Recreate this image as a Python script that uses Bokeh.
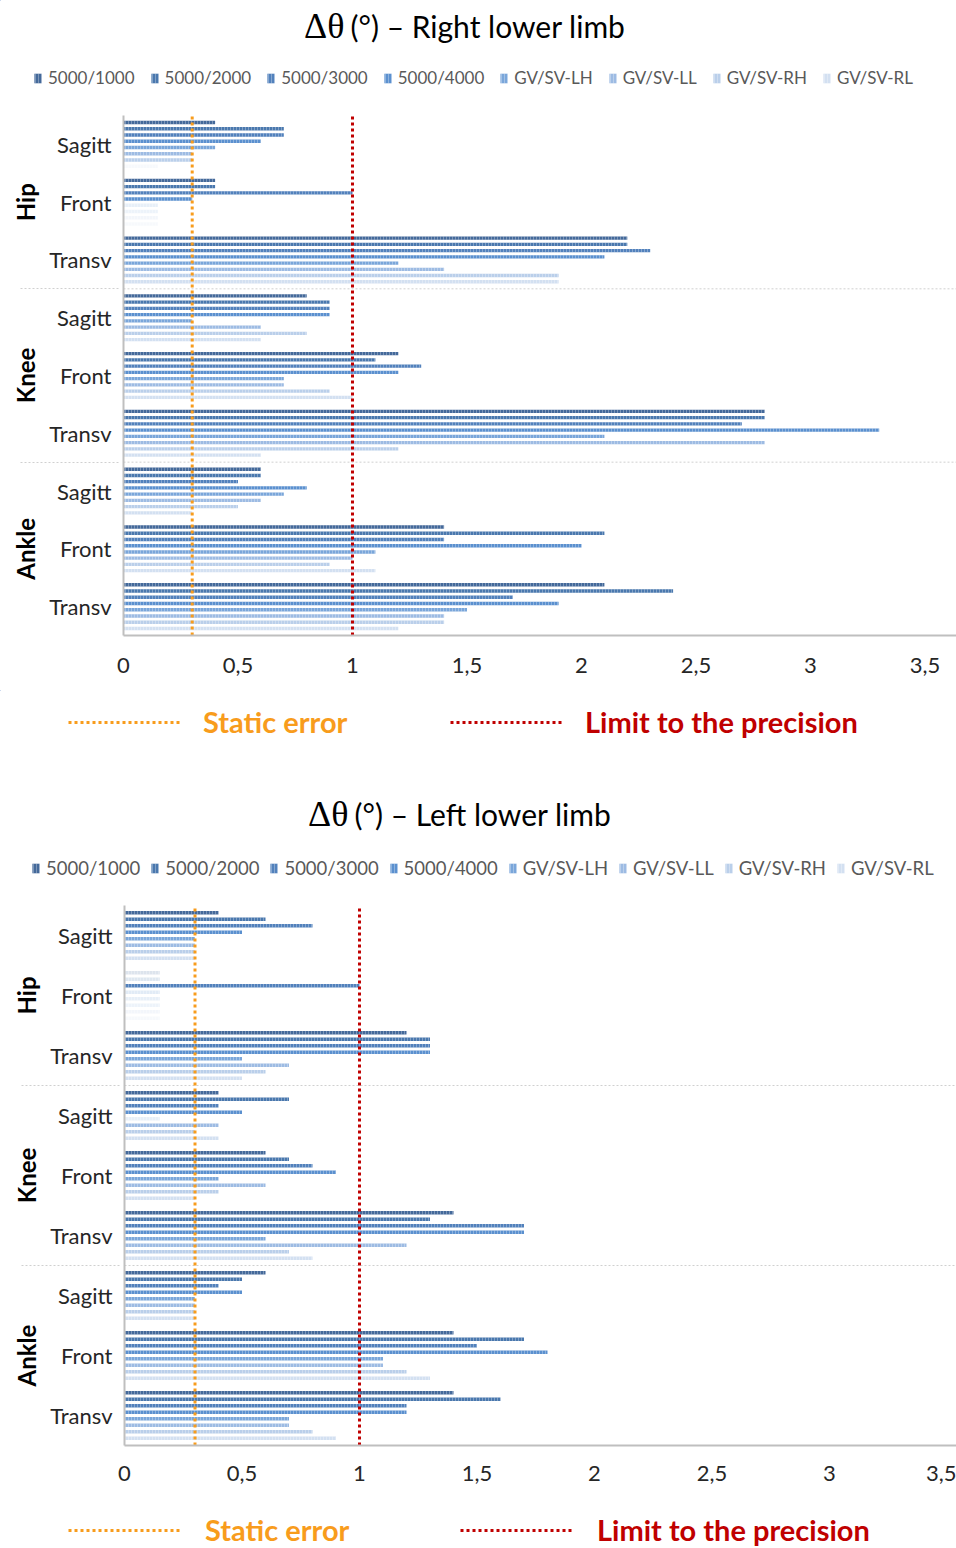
from bokeh.plotting import figure
from bokeh.models import (ColumnDataSource, FactorRange, FixedTicker, Legend,
                          LegendItem, Label, Range1d)
from bokeh.transform import dodge
from bokeh.embed import file_html
from bokeh.resources import INLINE

# ---------------- data ----------------
SERIES = ["5000/1000", "5000/2000", "5000/3000", "5000/4000",
          "GV/SV-LH", "GV/SV-LL", "GV/SV-RH", "GV/SV-RL"]
JOINTS = ["Hip", "Knee", "Ankle"]
PLANES = ["Sagitt", "Front", "Transv"]
XTICKS = [0, 0.5, 1, 1.5, 2, 2.5, 3, 3.5]
XTICK_LABELS = ["0", "0,5", "1", "1,5", "2", "2,5", "3", "3,5"]
STATIC_ERROR = 0.3
PRECISION_LIMIT = 1

# values per series, categories ordered Hip S/F/T, Knee S/F/T, Ankle S/F/T
RIGHT_5000_1000 = [0.4, 0.4, 2.2, 0.8, 1.2, 2.8, 0.6, 1.4, 2.1]
RIGHT_5000_2000 = [0.7, 0.4, 2.2, 0.9, 1.1, 2.8, 0.6, 2.1, 2.4]
RIGHT_5000_3000 = [0.7, 1.0, 2.3, 0.9, 1.3, 2.7, 0.5, 1.4, 1.7]
RIGHT_5000_4000 = [0.6, 0.3, 2.1, 0.9, 1.2, 3.3, 0.8, 2.0, 1.9]
RIGHT_GVSV_LH = [0.4, 0.15, 1.2, 0.3, 0.7, 2.1, 0.7, 1.1, 1.5]
RIGHT_GVSV_LL = [0.3, 0.15, 1.4, 0.6, 0.7, 2.8, 0.6, 1.0, 1.4]
RIGHT_GVSV_RH = [0.3, 0.15, 1.9, 0.8, 0.9, 1.2, 0.5, 0.9, 1.4]
RIGHT_GVSV_RL = [0.15, 0.15, 1.9, 0.6, 1.0, 0.6, 0.3, 1.1, 1.2]

LEFT_5000_1000 = [0.4, 0.15, 1.2, 0.4, 0.6, 1.4, 0.6, 1.4, 1.4]
LEFT_5000_2000 = [0.6, 0.15, 1.3, 0.7, 0.7, 1.3, 0.5, 1.7, 1.6]
LEFT_5000_3000 = [0.8, 1.0, 1.3, 0.4, 0.8, 1.7, 0.4, 1.5, 1.2]
LEFT_5000_4000 = [0.5, 0.15, 1.3, 0.5, 0.9, 1.7, 0.5, 1.8, 1.2]
LEFT_GVSV_LH = [0.3, 0.15, 0.5, 0.15, 0.4, 0.6, 0.3, 1.1, 0.7]
LEFT_GVSV_LL = [0.3, 0.15, 0.7, 0.4, 0.6, 1.2, 0.3, 1.1, 0.7]
LEFT_GVSV_RH = [0.3, 0.15, 0.6, 0.3, 0.4, 0.7, 0.3, 1.2, 0.8]
LEFT_GVSV_RL = [0.3, 0.15, 0.5, 0.4, 0.3, 0.8, 0.3, 1.3, 0.9]

RIGHT = [RIGHT_5000_1000, RIGHT_5000_2000, RIGHT_5000_3000, RIGHT_5000_4000,
         RIGHT_GVSV_LH, RIGHT_GVSV_LL, RIGHT_GVSV_RH, RIGHT_GVSV_RL]
LEFT = [LEFT_5000_1000, LEFT_5000_2000, LEFT_5000_3000, LEFT_5000_4000,
        LEFT_GVSV_LH, LEFT_GVSV_LL, LEFT_GVSV_RH, LEFT_GVSV_RL]

# ---------------- style ----------------
W = 956
COLORS = ["#44699A", "#4A78AE", "#5281BC", "#5B90CF",
          "#7AA6DA", "#9DBBE3", "#BACFEA", "#D3E0F1"]
ORANGE = "#F89C1C"
RED = "#C00000"
FONT = "Lato"
STEP = 0.108
BAR_H = 0.058
FAINT = 0.15
HATCH = dict(hatch_pattern="vertical_line", hatch_color="#ffffff",
             hatch_alpha=0.3, hatch_scale=3, hatch_weight=1)


def blank(h):
    f = figure(width=W, height=h, x_range=Range1d(0, W), y_range=Range1d(h, 0),
               output_backend="svg", toolbar_location=None, min_border=0,
               x_axis_location=None, y_axis_location=None, title=None)
    f.grid.visible = False
    f.outline_line_color = None
    return f


def add_title(f, rest, x_join, y):
    f.add_layout(Label(x=x_join, y=y, text="Δθ", text_align="right",
                       text_baseline="middle", text_font="Liberation Serif",
                       text_font_size="36px", text_color="#000000"))
    f.add_layout(Label(x=x_join + 6, y=y, text=rest, text_align="left",
                       text_baseline="middle", text_font=FONT,
                       text_font_size="30px", text_color="#000000"))


def add_series_legend(f, loc, fs, spacing):
    items = []
    for name, c in zip(SERIES, COLORS):
        # legend-only renderer placed outside the visible range
        r = f.hbar(y=[-50], right=[-40], left=[-45], height=1,
                   fill_color=c, line_color=None, **HATCH)
        items.append(LegendItem(label=name, renderers=[r]))
    f.add_layout(Legend(items=items, orientation="horizontal", location=loc,
                        glyph_width=9, glyph_height=12, label_standoff=6,
                        label_height=20, spacing=spacing, padding=0, margin=0,
                        border_line_color=None, background_fill_alpha=0,
                        label_text_font=FONT, label_text_font_size=fs,
                        label_text_color="#595959"))


def add_limit_legends(f, vy, x_static, x_prec, standoff):
    for lbl, color, vx in [("Static error", ORANGE, x_static),
                           ("Limit to the precision", RED, x_prec)]:
        r = f.line(x=[-50, -40], y=[-50, -50], line_color=color, line_width=3,
                   line_dash="3 3")
        f.add_layout(Legend(items=[LegendItem(label=lbl, renderers=[r])],
                            location=(vx, vy), glyph_width=112, glyph_height=34,
                            label_height=34, label_standoff=standoff,
                            padding=0, margin=0, border_line_color=None,
                            background_fill_alpha=0, label_text_font=FONT,
                            label_text_font_size="29px",
                            label_text_font_style="bold",
                            label_text_color=color))


def make_chart(data, cfg):
    cats = [(j, pl) for j in JOINTS for pl in PLANES]
    fw = W - cfg["left"]
    fh = cfg["frame_h"]
    x_end = fw / cfg["ppu"]
    p = figure(width=W, height=cfg["top"] + fh + cfg["bottom"],
               y_range=FactorRange(*reversed(cats), group_padding=0,
                                   factor_padding=0, range_padding=0),
               x_range=(0, x_end), output_backend="svg", toolbar_location=None,
               min_border_left=cfg["left"], min_border_right=0,
               min_border_top=cfg["top"], min_border_bottom=cfg["bottom"],
               title=None)
    p.outline_line_color = None
    p.xgrid.visible = False
    p.ygrid.visible = False

    for i, vals in enumerate(data):
        alpha = [0.18 if v <= FAINT else 1.0 for v in vals]
        src = ColumnDataSource(dict(y=cats, x=vals, alpha=alpha))
        off = 3.5 * STEP - i * STEP
        p.hbar(y=dodge("y", off, range=p.y_range), right="x", left=0,
               height=BAR_H, source=src, fill_color=COLORS[i],
               fill_alpha="alpha", line_color=None, **HATCH)

    # group separators inside plot area
    p.segment(x0=[0, 0], x1=[x_end, x_end], y0=[3, 6], y1=[3, 6],
              line_color="#d0d0d0", line_width=1, line_dash="2 2")

    p.segment(x0=[STATIC_ERROR], x1=[STATIC_ERROR], y0=[0], y1=[9],
              line_color=ORANGE, line_width=3, line_dash="3 3")
    p.segment(x0=[PRECISION_LIMIT], x1=[PRECISION_LIMIT], y0=[0], y1=[9],
              line_color=RED, line_width=3, line_dash="3 3")

    xa = p.xaxis[0]
    xa.ticker = FixedTicker(ticks=XTICKS)
    xa.major_label_overrides = {t: l for t, l in zip(XTICKS, XTICK_LABELS)}
    xa.major_tick_line_color = None
    xa.minor_tick_line_color = None
    xa.axis_line_color = "#bfbfbf"
    xa.axis_line_width = 2
    xa.major_label_text_font = FONT
    xa.major_label_text_font_size = "22px"
    xa.major_label_text_color = "#262626"
    xa.major_label_standoff = cfg["xstand"]

    ya = p.yaxis[0]
    ya.major_tick_line_color = None
    ya.minor_tick_line_color = None
    ya.axis_line_color = "#bfbfbf"
    ya.axis_line_width = 2
    ya.major_label_text_font = FONT
    ya.major_label_text_font_size = "22px"
    ya.major_label_text_color = "#262626"
    ya.major_label_standoff = 6
    ya.group_text_font = FONT
    ya.group_text_font_size = "24px"
    ya.group_text_font_style = "bold"
    ya.group_text_color = "#000000"
    ya.separator_line_color = "#d0d0d0"
    ya.separator_line_dash = "2 2"
    ya.separator_line_width = 1
    return p


# header 1 : 0 - 108
head1 = blank(108)
add_title(head1, "(°) – Right lower limb", 344, 25)
add_series_legend(head1, (33, 20), "17px", 15)

# main 1 : 108 - 690  (frame 115 - 635)
main1 = make_chart(RIGHT, dict(left=123, top=7, frame_h=520, bottom=55,
                               ppu=229, xstand=16))

# middle : 690 - 898
mid = blank(208)
add_limit_legends(mid, 159, 68, 450, 23)
add_title(mid, "(°) – Left lower limb", 348, 123)
add_series_legend(mid, (31, 19), "18.5px", 10)

# main 2 : 898 - 1488 (frame 905 - 1445)
main2 = make_chart(LEFT, dict(left=124, top=7, frame_h=540, bottom=43,
                              ppu=235, xstand=14))

# footer : 1488 - 1548
foot = blank(60)
add_limit_legends(foot, 1, 68, 460, 25)

open("out.html", "w").write(file_html([head1, main1, mid, main2, foot], INLINE))
